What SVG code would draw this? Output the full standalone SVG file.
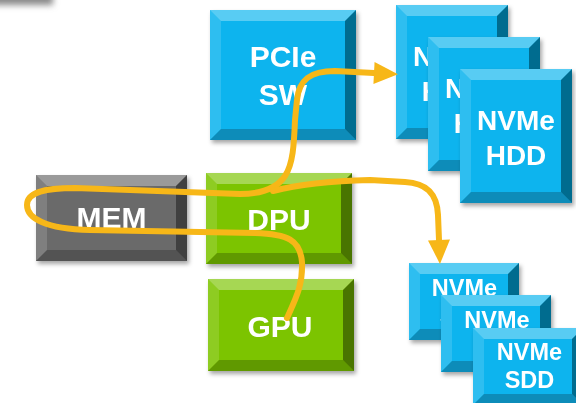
<svg xmlns="http://www.w3.org/2000/svg" width="576" height="403" viewBox="0 0 576 403">
<style>
.t{font-family:"Liberation Sans",Arial,sans-serif;font-weight:bold;fill:#fff;text-anchor:middle}
.f30{font-size:30px}.f28{font-size:28px}.f23{font-size:23.5px}
.blue{fill:#0BB4EE}.green{fill:#7CC400}.gray{fill:#6B6B6B}
.bt{fill:#fff;fill-opacity:.32}.bl{fill:#fff;fill-opacity:.14}
.br{fill:#000;fill-opacity:.4}.bb{fill:#000;fill-opacity:.22}
.box{filter:url(#sh)}
.conn{fill:none;stroke:#F7B718;stroke-width:6;stroke-linecap:round;stroke-linejoin:round}
</style>
<defs>
<filter id="sh" x="-10%" y="-10%" width="125%" height="125%">
<feDropShadow dx="2" dy="3" stdDeviation="2" flood-color="#000" flood-opacity="0.35"/>
</filter>
<filter id="blur" x="-50%" y="-50%" width="200%" height="200%"><feGaussianBlur stdDeviation="3"/></filter>
<marker id="ah" markerUnits="userSpaceOnUse" markerWidth="26" markerHeight="24" refX="0" refY="12" orient="auto" overflow="visible">
<path d="M0,1 L24,12 L0,23 Z" fill="#F7B718"/>
</marker>
</defs>
<rect x="-10" y="-14" width="63" height="19" fill="#8a8a8a" filter="url(#blur)"/>

<g id="pcie-sw" class="box">
<rect class="blue" x="210" y="10" width="146" height="130"/>
<polygon class="bt" points="210,10 356,10 345,21 221,21"/>
<polygon class="bl" points="210,10 221,21 221,129 210,140"/>
<polygon class="br" points="356,10 356,140 345,129 345,21"/>
<polygon class="bb" points="210,140 356,140 345,129 221,129"/>
<text class="t f30" x="283" y="67">PCIe</text>
<text class="t f30" x="283" y="105">SW</text>
</g>

<g id="mem" class="box">
<rect class="gray" x="36" y="175" width="151" height="86"/>
<polygon class="bt" points="36,175 187,175 176,186 47,186"/>
<polygon class="bl" points="36,175 47,186 47,250 36,261"/>
<polygon class="br" points="187,175 187,261 176,250 176,186"/>
<polygon class="bb" points="36,261 187,261 176,250 47,250"/>
<text class="t f30" x="111.5" y="228">MEM</text>
</g>

<g id="dpu" class="box">
<rect class="green" x="206" y="173" width="146" height="91"/>
<polygon class="bt" points="206,173 352,173 341,184 217,184"/>
<polygon class="bl" points="206,173 217,184 217,253 206,264"/>
<polygon class="br" points="352,173 352,264 341,253 341,184"/>
<polygon class="bb" points="206,264 352,264 341,253 217,253"/>
<text class="t f30" x="279" y="230">DPU</text>
</g>

<g id="gpu" class="box">
<rect class="green" x="208" y="279" width="146" height="92"/>
<polygon class="bt" points="208,279 354,279 343,290 219,290"/>
<polygon class="bl" points="208,279 219,290 219,360 208,371"/>
<polygon class="br" points="354,279 354,371 343,360 343,290"/>
<polygon class="bb" points="208,371 354,371 343,360 219,360"/>
<text class="t f30" x="280" y="337">GPU</text>
</g>

<g id="hdd1" class="box">
<rect class="blue" x="396" y="5" width="112" height="134"/>
<polygon class="bt" points="396,5 508,5 497,16 407,16"/>
<polygon class="bl" points="396,5 407,16 407,128 396,139"/>
<polygon class="br" points="508,5 508,139 497,128 497,16"/>
<polygon class="bb" points="396,139 508,139 497,128 407,128"/>
<text class="t f28" x="452" y="66">NVMe</text>
<text class="t f28" x="452" y="101">HDD</text>
</g>

<g id="hdd2" class="box">
<rect class="blue" x="428" y="37" width="112" height="134"/>
<polygon class="bt" points="428,37 540,37 529,48 439,48"/>
<polygon class="bl" points="428,37 439,48 439,160 428,171"/>
<polygon class="br" points="540,37 540,171 529,160 529,48"/>
<polygon class="bb" points="428,171 540,171 529,160 439,160"/>
<text class="t f28" x="484" y="98">NVMe</text>
<text class="t f28" x="484" y="133">HDD</text>
</g>

<g id="hdd3" class="box">
<rect class="blue" x="460" y="69" width="112" height="134"/>
<polygon class="bt" points="460,69 572,69 561,80 471,80"/>
<polygon class="bl" points="460,69 471,80 471,192 460,203"/>
<polygon class="br" points="572,69 572,203 561,192 561,80"/>
<polygon class="bb" points="460,203 572,203 561,192 471,192"/>
<text class="t f28" x="516" y="130">NVMe</text>
<text class="t f28" x="516" y="165">HDD</text>
</g>

<g id="sdd1" class="box">
<rect class="blue" x="409" y="263" width="110" height="77"/>
<polygon class="bt" points="409,263 519,263 508,274 420,274"/>
<polygon class="bl" points="409,263 420,274 420,329 409,340"/>
<polygon class="br" points="519,263 519,340 508,329 508,274"/>
<polygon class="bb" points="409,340 519,340 508,329 420,329"/>
<text class="t f23" x="464.5" y="296">NVMe</text>
<text class="t f23" x="464.5" y="324">SDD</text>
</g>

<g id="sdd2" class="box">
<rect class="blue" x="441" y="295" width="110" height="77"/>
<polygon class="bt" points="441,295 551,295 540,306 452,306"/>
<polygon class="bl" points="441,295 452,306 452,361 441,372"/>
<polygon class="br" points="551,295 551,372 540,361 540,306"/>
<polygon class="bb" points="441,372 551,372 540,361 452,361"/>
<text class="t f23" x="497" y="328">NVMe</text>
<text class="t f23" x="497" y="356">SDD</text>
</g>

<g id="sdd3" class="box">
<rect class="blue" x="473" y="328" width="110" height="77"/>
<polygon class="bt" points="473,328 583,328 572,339 484,339"/>
<polygon class="bl" points="473,328 484,339 484,394 473,405"/>
<polygon class="br" points="583,328 583,405 572,394 572,339"/>
<polygon class="bb" points="473,405 583,405 572,394 484,394"/>
<text class="t f23" x="529.5" y="360">NVMe</text>
<text class="t f23" x="529.5" y="388">SDD</text>
</g>

<g id="connectors">
<path class="conn" marker-end="url(#ah)" d="M287,318 C296,298 303,285 302,262 C300,240 288,234 255,233 L90,230 C45,229 27,218 27,205 C27,193 42,188 75,188 L240,194 C262,194 277,188 285,176 C293,164 294,145 295,120 L297,100 C299,80 310,71 335,71 L374,73"/>
<path class="conn" marker-end="url(#ah)" d="M273,191 C300,184 330,181 370,180 L405,182 C425,183 437,192 438,215 L439,240"/>
</g>
</svg>
